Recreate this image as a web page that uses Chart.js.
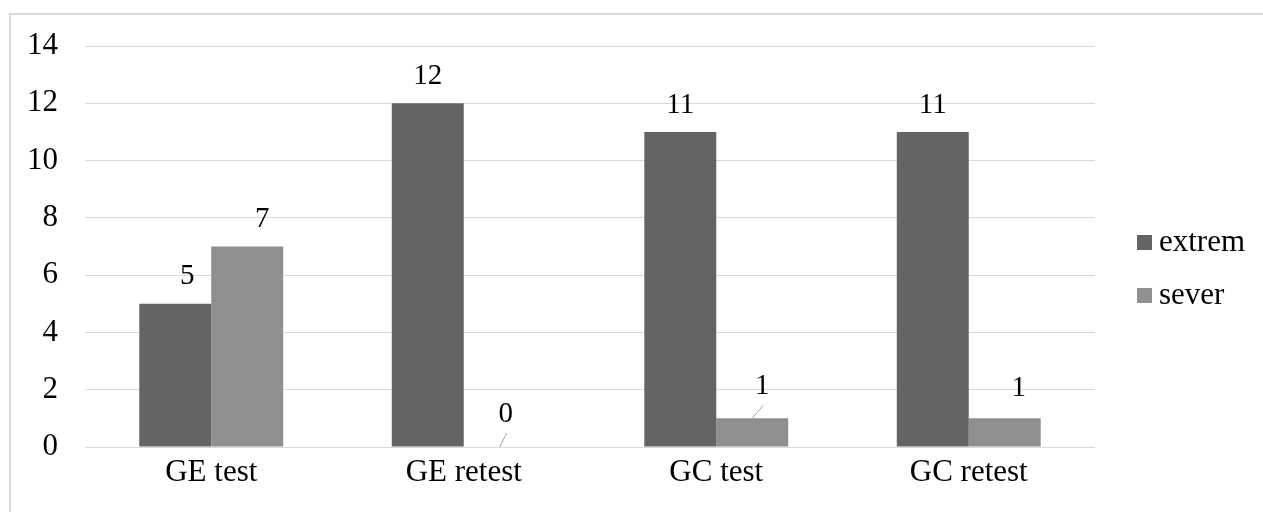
<!DOCTYPE html>
<html>
<head>
<meta charset="utf-8">
<script src="https://cdn.jsdelivr.net/npm/chart.js@4"></script>
<style>
  html, body { margin: 0; padding: 0; background: #fff; overflow: hidden; }
  #wrap { position: relative; width: 1263px; height: 512px; }
  #frame { position: absolute; left: 9px; top: 13px; width: 1300px; height: 600px; border: 2px solid #d9d9d9; box-sizing: border-box; pointer-events: none; }
  canvas { position: absolute; left: 0; top: 0; }
</style>
</head>
<body>
<div id="wrap">
  <div id="frame"></div>
  <canvas id="c" width="1263" height="512"></canvas>
</div>
<script>
const categories = ["GE test", "GE retest", "GC test", "GC retest"];
const seriesNames = ["extrem", "sever"];
const extremValues = [5, 12, 11, 11];
const severValues = [7, 0, 1, 1];
const yTicks = [0, 2, 4, 6, 8, 10, 12, 14];

const colors = ["#646464", "#8f8f8f"];
const FONT = "'Liberation Serif', 'Times New Roman', serif";
const FS = 31;
const LFS = 29;

// label nudges in pixels [dx, dy] per dataset / category, and leader line flags
const labelNudges = [
  [[12, 0], [0, 0], [0, 0], [0, 0]],
  [[15, 0], [6, -6], [10, -5], [14, -3]]
];
const leaderFlags = [
  [false, false, false, false],
  [false, true, true, false]
];

const labelPlugin = {
  id: "valueLabels",
  afterDatasetsDraw(chart) {
    const ctx = chart.ctx;
    ctx.save();
    ctx.font = LFS + "px " + FONT;
    ctx.fillStyle = "#000";
    ctx.textAlign = "center";
    ctx.textBaseline = "middle";
    chart.data.datasets.forEach((ds, di) => {
      const meta = chart.getDatasetMeta(di);
      meta.data.forEach((bar, i) => {
        const n = labelNudges[di][i];
        const lx = bar.x + n[0];
        const ly = bar.y - 27 + n[1];
        ctx.fillText(String(ds.data[i]), lx, ly);
        if (leaderFlags[di][i]) {
          ctx.strokeStyle = "#a6a6a6";
          ctx.lineWidth = 1;
          ctx.beginPath();
          ctx.moveTo(bar.x, bar.y);
          ctx.lineTo(lx + 1, ly + 19);
          ctx.stroke();
        }
      });
    });
    ctx.restore();
  }
};

const legendPlugin = {
  id: "customLegend",
  afterDraw(chart) {
    const ctx = chart.ctx;
    ctx.save();
    ctx.font = FS + "px " + FONT;
    ctx.textAlign = "left";
    ctx.textBaseline = "middle";
    const ys = [242, 295];
    chart.data.datasets.forEach((ds, di) => {
      const y = ys[di];
      ctx.fillStyle = ds.backgroundColor;
      ctx.fillRect(1137, y - 7, 15, 15);
      ctx.fillStyle = "#000";
      ctx.fillText(ds.label, 1159, y + 1);
    });
    ctx.restore();
  }
};

new Chart(document.getElementById("c"), {
  type: "bar",
  data: {
    labels: categories,
    datasets: [
      { label: seriesNames[0], data: extremValues, backgroundColor: colors[0], borderWidth: 0 },
      { label: seriesNames[1], data: severValues, backgroundColor: colors[1], borderWidth: 0 }
    ]
  },
  options: {
    responsive: false,
    animation: false,
    devicePixelRatio: 1,
    layout: { padding: { top: 46, right: 168, left: 0, bottom: 0 } },
    datasets: { bar: { categoryPercentage: 0.57, barPercentage: 1 } },
    plugins: { legend: { display: false }, tooltip: { enabled: false } },
    scales: {
      x: {
        grid: { display: false, drawTicks: false },
        border: { display: false },
        ticks: { font: { family: FONT, size: FS }, color: "#000", padding: 7 },
        afterFit(scale) { scale.height = 65; }
      },
      y: {
        min: 0, max: 14,
        afterBuildTicks(scale) { scale.ticks = yTicks.map(v => ({ value: v })); },
        grid: { color: "#d9d9d9", lineWidth: 1, drawTicks: false },
        border: { display: false },
        ticks: { font: { family: FONT, size: FS }, color: "#000", padding: 27 },
        afterFit(scale) { scale.width = 85; }
      }
    }
  },
  plugins: [labelPlugin, legendPlugin]
});
</script>
</body>
</html>
